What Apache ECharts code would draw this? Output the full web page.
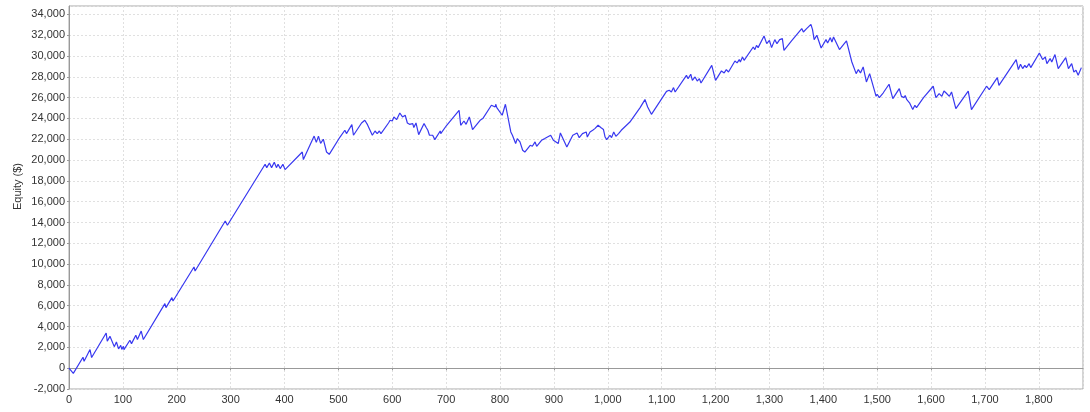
<!DOCTYPE html>
<html>
<head>
<meta charset="utf-8">
<script src="https://cdn.jsdelivr.net/npm/echarts@6/dist/echarts.min.js"></script>
<style>
  html, body { margin: 0; padding: 0; background: #fff; }
  #main { width: 1090px; height: 412px; }
</style>
</head>
<body>
<div id="main"></div>
<script>
// trade number at each turning point of the equity curve (10 per row, rows match equity below)
var tradeNo = [
  0, 8, 26, 28, 39, 42, 69, 71, 76, 84,
  88, 92, 96, 98, 101, 102, 113, 116, 124, 127,
  134, 138, 178, 180, 191, 193, 232, 234, 290, 294,
  364, 367, 372, 376, 381, 385, 388, 392, 397, 401,
  433, 435, 455, 459, 463, 467, 472, 478, 483, 503,
  512, 515, 525, 528, 543, 549, 554, 563, 568, 572,
  576, 579, 593, 596, 600, 603, 608, 614, 619, 624,
  628, 632, 634, 638, 640, 644, 649, 659, 663, 666,
  669, 671, 675, 679, 689, 690, 701, 724, 727, 733,
  737, 743, 749, 763, 766, 768, 784, 791, 792, 794,
  804, 810, 820, 823, 826, 829, 832, 837, 842, 846,
  856, 860, 865, 868, 877, 880, 883, 886, 894, 899,
  902, 908, 912, 924, 935, 943, 947, 953, 960, 962,
  967, 972, 976, 982, 987, 992, 995, 998, 1004, 1007,
  1011, 1015, 1020, 1025, 1041, 1060, 1069, 1074, 1077, 1081,
  1109, 1114, 1118, 1122, 1125, 1146, 1149, 1154, 1157, 1162,
  1166, 1170, 1173, 1193, 1200, 1211, 1216, 1220, 1224, 1236,
  1240, 1244, 1246, 1250, 1253, 1270, 1273, 1276, 1279, 1290,
  1295, 1300, 1304, 1310, 1314, 1319, 1324, 1327, 1341, 1344,
  1360, 1363, 1366, 1369, 1372, 1377, 1380, 1383, 1388, 1396,
  1405, 1408, 1413, 1416, 1419, 1430, 1443, 1453, 1456, 1461,
  1465, 1469, 1474, 1480, 1486, 1498, 1500, 1504, 1511, 1522,
  1529, 1541, 1545, 1550, 1552, 1555, 1557, 1560, 1562, 1566,
  1570, 1573, 1586, 1604, 1609, 1615, 1620, 1624, 1628, 1634,
  1638, 1646, 1669, 1675, 1703, 1708, 1723, 1726, 1758, 1762,
  1766, 1770, 1774, 1777, 1782, 1785, 1801, 1807, 1812, 1815,
  1821, 1824, 1830, 1836, 1850, 1855, 1861, 1865, 1869, 1873,
  1879
];
// equity ($) at those trades
var equity = [
  0, -500, 1050, 660, 1790, 1020, 3380, 2590, 3060, 2070,
  2520, 1850, 2200, 1810, 2100, 1790, 2680, 2360, 3160, 2750,
  3570, 2750, 6200, 5820, 6780, 6460, 9720, 9340, 14140, 13730,
  19590, 19270, 19720, 19270, 19780, 19270, 19590, 19180, 19590, 19080,
  20770, 20040, 22300, 21700, 22300, 21600, 22000, 20770, 20550, 22210,
  22860, 22540, 23400, 22380, 23560, 23820, 23400, 22380, 22790, 22540,
  22790, 22540, 23560, 23820, 23750, 24140, 23880, 24520, 24140, 24300,
  23560, 23430, 23240, 23500, 23120, 23560, 22440, 23500, 23120, 22860,
  22380, 22210, 22380, 21960, 22790, 22540, 23340, 24780, 23340, 23750,
  23430, 24140, 22930, 23820, 23650, 23980, 25260, 25100, 25360, 25040,
  24300, 25360, 22700, 22380, 22540, 21580, 22060, 21740, 20940, 20770,
  21420, 21320, 21740, 21320, 21900, 21740, 22060, 21900, 22380, 21900,
  22060, 21580, 22600, 21250, 22380, 22600, 22150, 22540, 22700, 22210,
  22700, 22860, 23020, 23340, 23120, 22930, 22210, 21960, 22380, 22150,
  22700, 22280, 22540, 22860, 23650, 25040, 25810, 25100, 25260, 24390,
  26600, 26700, 26540, 26960, 26540, 28140, 27820, 28240, 27660, 27980,
  27590, 27820, 27400, 29100, 27660, 28560, 28370, 28690, 28460, 29520,
  29330, 29650, 29420, 29900, 29580, 30860, 30610, 31020, 30800, 31920,
  31180, 31500, 30800, 31570, 31180, 31570, 31670, 30540, 31440, 31250,
  32630, 32300, 32460, 32630, 32460, 33040, 32530, 31570, 31990, 30770,
  31570, 31250, 31760, 31340, 31820, 30610, 31440, 29420, 29580, 28300,
  28690, 28370, 28940, 27500, 28300, 26120, 26320, 26000, 26440, 27280,
  25900, 26860, 26120, 26000, 26200, 25800, 25900, 25500, 25600, 24850,
  25260, 25040, 26000, 27090, 26000, 26380, 26120, 26630, 26440, 26120,
  26540, 24940, 26630, 24850, 27090, 26770, 27920, 27180, 29650, 28690,
  29200, 28790, 29100, 28880, 29260, 28880, 30280, 29650, 29900, 29260,
  29750, 29420, 30130, 28790, 29840, 28790, 29260, 28460, 28620, 28140,
  28880
];
var xRange = [0, 1882];
var yRange = [-2000, 34800];

var points = tradeNo.map(function (t, i) { return [t, equity[i]]; });

var myChart = echarts.init(document.getElementById('main'));
var labelFont = { color: '#333', fontSize: 11, fontFamily: 'Liberation Sans, Arial, sans-serif' };
var gridLine = { show: true, lineStyle: { color: '#e0e0e0', type: [2, 2], width: 1 } };

myChart.setOption({
    animation: false,
    grid: {
        left: 69, right: 7, top: 6, bottom: 23,
        show: true, borderColor: '#a8a8a8', borderWidth: 1, backgroundColor: '#fff'
    },
    xAxis: {
        type: 'value',
        min: xRange[0],
        max: xRange[1],
        interval: 100,
        axisLine: { lineStyle: { color: '#999' } },
        axisTick: { show: true, length: 2, lineStyle: { color: '#999' } },
        axisLabel: Object.assign({ margin: 5, showMaxLabel: false }, labelFont),
        splitLine: gridLine
    },
    yAxis: {
        type: 'value',
        min: yRange[0],
        max: yRange[1],
        interval: 2000,
        name: 'Equity ($)',
        nameLocation: 'middle',
        nameRotate: 90,
        nameGap: 46,
        nameMoveOverlap: false,
        // shift the title a little above the plot centre, as in the original
        nameTextStyle: Object.assign({ padding: [0, 0, 0, 22] }, labelFont),
        axisLine: { show: true, lineStyle: { color: '#999' } },
        axisTick: { show: true, length: 2, lineStyle: { color: '#999' } },
        axisLabel: Object.assign({ margin: 4, showMaxLabel: false }, labelFont),
        splitLine: gridLine
    },
    series: [{
        type: 'line',
        data: points,
        symbol: 'none',
        lineStyle: { color: '#3838f0', width: 1.2 }
    }]
});
</script>
</body>
</html>
